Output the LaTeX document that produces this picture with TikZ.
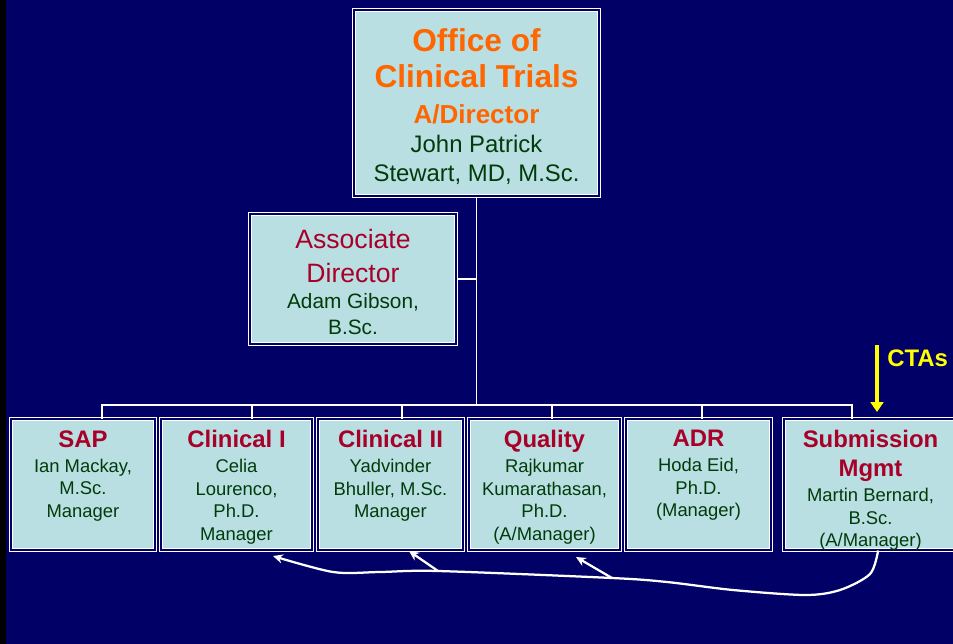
\documentclass[tikz,border=0pt]{standalone}
\usepackage{fontspec}
\setmainfont{Liberation Sans}
\usetikzlibrary{arrows.meta}

\definecolor{slidebg}{RGB}{0,0,102}
\definecolor{cardfill}{RGB}{185,223,227}
\definecolor{titleorange}{RGB}{255,102,0}
\definecolor{unitred}{RGB}{168,0,40}
\definecolor{namegreen}{RGB}{0,60,10}
\definecolor{ctayellow}{RGB}{255,255,0}

% unit name in red, then the people under it
\newcommand{\unitcard}[2]{\parbox[t][2.7cm][t]{3.5cm}{\centering
  {\fontsize{17}{20.6}\selectfont\bfseries\color{unitred}#1\par}
  \vspace{1.8pt}
  {\fontsize{13.1}{16}\selectfont\color{namegreen}#2\par}}}

\begin{document}
\begin{tikzpicture}[x=0.025cm, y=-0.025cm,
    unitbox/.style={draw=white, double=slidebg, double distance=1pt, line width=0.6pt,
      fill=cardfill, inner sep=0pt, minimum height=3.275cm},
    headbox/.style={unitbox, double distance=2pt, line width=0.7pt, align=flush center},
    orgline/.style={draw=white, line width=1.4pt},
    flowarrow/.style={draw=white, line width=1.6pt, -{Stealth[length=7pt,width=6.5pt]}},
    ctaarrow/.style={draw=ctayellow, line width=2.6pt, -{Triangle[length=7pt,width=9pt]}}]

    % slide background
    \useasboundingbox (0,0) rectangle (953,644);
    \fill[black] (0,0) rectangle (953,644);
    \fill[slidebg] (6,0) rectangle (953,644);

    \node[headbox, minimum width=6.125cm, minimum height=4.65cm, text width=5.8cm] (office) at (476.5,103)
      {{\fontsize{22.5}{25.6}\selectfont\bfseries\color{titleorange}\rule{0pt}{22pt}Office of\\Clinical Trials\par}%
       {\fontsize{18.5}{25.6}\selectfont\bfseries\color{titleorange}A/Director\par}%
       {\fontsize{17}{20.6}\selectfont\color{namegreen}John Patrick\\Stewart, MD, M.Sc.\par}};
    \node[headbox, double distance=1.2pt, minimum width=5.15cm, minimum height=3.25cm, text width=4.8cm] (assoc) at (353,279)
      {{\fontsize{18.9}{24.2}\selectfont\color{unitred}\rule{0pt}{18pt}Associate\\Director\par}%
       {\fontsize{14.8}{18.5}\selectfont\color{namegreen}Adam Gibson,\\B.Sc.\par}};

    \node[unitbox, minimum width=3.6cm] (sap) at (83,484.5) {\unitcard{SAP}{Ian Mackay,\\M.Sc.\\Manager}};
    \node[unitbox, minimum width=3.775cm] (clinI) at (236.5,484.5) {\unitcard{Clinical I}{Celia\\Lourenco,\\Ph.D.\\Manager}};
    \node[unitbox, minimum width=3.625cm] (clinII) at (390.5,484.5) {\unitcard{Clinical II}{Yadvinder\\Bhuller, M.Sc.\\Manager}};
    \node[unitbox, minimum width=3.775cm] (quality) at (544.5,484.5) {\unitcard{Quality}{Rajkumar\\Kumarathasan,\\Ph.D.\\(A/Manager)}};
    \node[unitbox, minimum width=3.625cm] (adr) at (698.5,484.5) {\unitcard{ADR}{Hoda Eid,\\Ph.D.\\(Manager)}};
    \node[unitbox, minimum width=4.325cm] (subm) at (870.5,484.5) {\unitcard{Submission\\Mgmt}{Martin Bernard,\\B.Sc.\\(A/Manager)}};

    % reporting lines
    \coordinate (bus) at (476.5,405);
    \draw[orgline] (office.south) -- (bus);
    \draw[orgline] (assoc.east) -- (assoc.east -| office.south);
    \foreach \u/\x [count=\i] in {sap/102, clinI/252, clinII/402, quality/552, adr/702, subm/852}
      {\coordinate (d\i) at (\x,405);
       \draw[orgline] (d\i) -- (d\i |- \u.north);}
    \draw[orgline, line cap=rect] (d1) -- (d6);

    % CTAs coming in
    \coordinate (ctatop) at (877,345);
    \coordinate (ctatip) at (877,412);
    \draw[ctaarrow] (ctatop) -- (ctatip);
    \node[anchor=base west, inner sep=0pt, text=ctayellow, font=\fontsize{17}{20}\selectfont\bfseries] (ctas) at (887,366) {CTAs};

    % hand-off from Submission Mgmt
    \coordinate (fb0) at ([xshift=0.19cm]subm.south);
    \coordinate (fb1) at (612,578);
    \coordinate (fb2) at (438,571);
    \coordinate (tip0) at (273,556);
    \coordinate (tip1) at (409,551);
    \coordinate (tip2) at (576,557);
    \draw[flowarrow] plot[smooth, tension=0.5] coordinates
      {(fb0) (870,574) (840,590) (805,595) (733,590) (667,582) (fb1) (fb2) (380,572) (333,572) (tip0)};
    \draw[flowarrow] (fb2) -- (tip1);
    \draw[flowarrow] (fb1) -- (tip2);
\end{tikzpicture}
\end{document}
